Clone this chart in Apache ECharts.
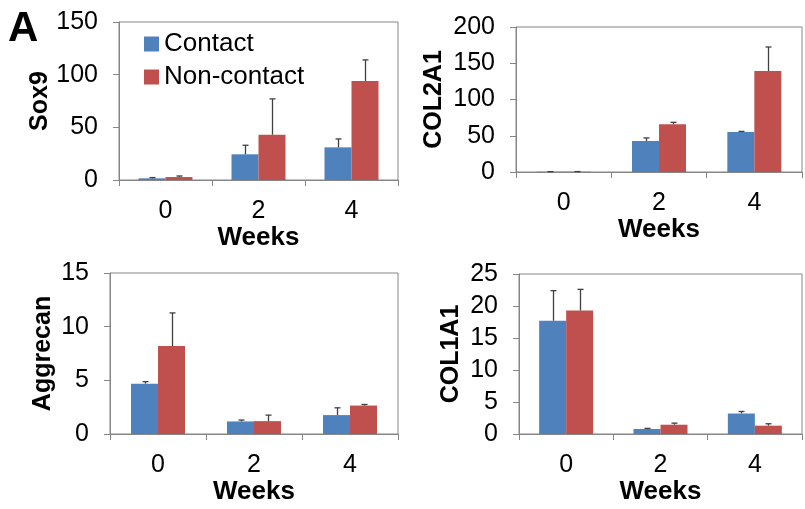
<!DOCTYPE html>
<html>
<head>
<meta charset="utf-8">
<script src="https://cdn.jsdelivr.net/npm/echarts@6/dist/echarts.min.js"></script>
<style>
html,body{margin:0;padding:0;background:#fff;}
#chart{width:805px;height:509px;}
</style>
</head>
<body>
<div id="chart"></div>
<script>
// ---- Data ----
const weeks = ['0', '2', '4'];
const seriesNames = ['Contact', 'Non-contact'];

const sox9Contact = [1.6, 24.4, 31];
const sox9ContactUpper = [2.3, 33, 39];
const sox9NonContact = [2.8, 43, 94];
const sox9NonContactUpper = [3.8, 77, 114];

const col2a1Contact = [0.4, 42.8, 55.2];
const col2a1ContactUpper = [0.5, 47, 56];
const col2a1NonContact = [0.4, 65.8, 139.3];
const col2a1NonContactUpper = [0.6, 68.5, 172.4];

const aggrecanContact = [4.69, 1.17, 1.76];
const aggrecanContactUpper = [4.88, 1.3, 2.44];
const aggrecanNonContact = [8.19, 1.2, 2.65];
const aggrecanNonContactUpper = [11.28, 1.76, 2.75];

const col1a1Contact = [17.7, 0.78, 3.2];
const col1a1ContactUpper = [22.4, 0.88, 3.52];
const col1a1NonContact = [19.3, 1.45, 1.3];
const col1a1NonContactUpper = [22.6, 1.7, 1.6];

const yTicks = {
  sox9: {max: 150, interval: 50},
  col2a1: {max: 200, interval: 50},
  aggrecan: {max: 15, interval: 5},
  col1a1: {max: 25, interval: 5}
};

// ---- Styling ----
const FONT = 'Arial, "Liberation Sans", sans-serif';
const BLUE = '#4F81BD';
const RED = '#C0504D';
const AXIS = '#868686';
const BAR_W = 27;

const panels = [
  {name: 'Sox9', key: 'sox9', c: sox9Contact, cu: sox9ContactUpper, n: sox9NonContact, nu: sox9NonContactUpper,
   grid: {left: 119, top: 22, width: 279, height: 158}, yGap: 66, xGap: 43},
  {name: 'COL2A1', key: 'col2a1', c: col2a1Contact, cu: col2a1ContactUpper, n: col2a1NonContact, nu: col2a1NonContactUpper,
   grid: {left: 516, top: 27, width: 286, height: 145}, yGap: 69, xGap: 44},
  {name: 'Aggrecan', key: 'aggrecan', c: aggrecanContact, cu: aggrecanContactUpper, n: aggrecanNonContact, nu: aggrecanNonContactUpper,
   grid: {left: 110, top: 273, width: 288, height: 161}, yGap: 54, xGap: 42},
  {name: 'COL1A1', key: 'col1a1', c: col1a1Contact, cu: col1a1ContactUpper, n: col1a1NonContact, nu: col1a1NonContactUpper,
   grid: {left: 519, top: 274, width: 283, height: 160}, yGap: 55, xGap: 41}
];

const grids = [], xAxes = [], yAxes = [], series = [];

function errRender(offset) {
  return function (params, api) {
    const cat = api.value(0);
    const top = api.coord([cat, api.value(2)]);
    const base = api.coord([cat, api.value(1)]);
    const x = Math.round(top[0] + offset) + 0.5;
    const style = {stroke: '#404040', lineWidth: 1.3};
    return {
      type: 'group',
      children: [
        {type: 'line', shape: {x1: x, y1: base[1], x2: x, y2: top[1]}, style: style},
        {type: 'line', shape: {x1: x - 3, y1: top[1], x2: x + 3, y2: top[1]}, style: style}
      ]
    };
  };
}

panels.forEach((p, i) => {
  grids.push(Object.assign({show: true, borderColor: AXIS, borderWidth: 1, backgroundColor: 'transparent'}, p.grid));
  xAxes.push({
    type: 'category', gridIndex: i, data: weeks, boundaryGap: true,
    name: 'Weeks', nameLocation: 'middle', nameGap: p.xGap,
    nameTextStyle: {fontFamily: FONT, fontWeight: 'bold', fontSize: 26, color: '#000'},
    axisLine: {lineStyle: {color: AXIS, width: 1}},
    axisTick: {show: true, inside: false, length: 6, lineStyle: {color: AXIS}},
    axisLabel: {fontFamily: FONT, fontSize: 25, color: '#000', margin: 19}
  });
  yAxes.push({
    type: 'value', gridIndex: i, min: 0, max: yTicks[p.key].max, interval: yTicks[p.key].interval,
    name: p.name, nameLocation: 'middle', nameGap: p.yGap, nameRotate: 90,
    nameTextStyle: {fontFamily: FONT, fontWeight: 'bold', fontSize: 25, color: '#000'},
    axisLine: {show: true, lineStyle: {color: AXIS, width: 1}},
    axisTick: {show: true, inside: false, length: 6, lineStyle: {color: AXIS}},
    splitLine: {show: false},
    axisLabel: {fontFamily: FONT, fontSize: 25, color: '#000', margin: 21}
  });
  series.push({
    name: seriesNames[0], type: 'bar', xAxisIndex: i, yAxisIndex: i,
    data: p.c, barWidth: BAR_W, barGap: '0%', itemStyle: {color: BLUE}
  });
  series.push({
    name: seriesNames[1], type: 'bar', xAxisIndex: i, yAxisIndex: i,
    data: p.n, barWidth: BAR_W, barGap: '0%', itemStyle: {color: RED}
  });
  series.push({
    type: 'custom', xAxisIndex: i, yAxisIndex: i, z: 5,
    renderItem: errRender(-BAR_W / 2),
    encode: {x: 0, y: [1, 2]},
    data: p.c.map((v, k) => [k, v, p.cu[k]])
  });
  series.push({
    type: 'custom', xAxisIndex: i, yAxisIndex: i, z: 5,
    renderItem: errRender(BAR_W / 2),
    encode: {x: 0, y: [1, 2]},
    data: p.n.map((v, k) => [k, v, p.nu[k]])
  });
});

const chart = echarts.init(document.getElementById('chart'), null, {renderer: 'canvas'});
chart.setOption({
  animation: false,
  backgroundColor: '#fff',
  grid: grids,
  xAxis: xAxes,
  yAxis: yAxes,
  legend: {
    data: seriesNames, orient: 'vertical', left: 139, top: 26,
    itemWidth: 15, itemHeight: 15, itemGap: 7, icon: 'rect',
    textStyle: {fontFamily: FONT, fontSize: 26, color: '#000'}
  },
  graphic: [
    {type: 'text', left: 8, top: 8,
     style: {text: 'A', fontFamily: FONT, fontWeight: 'bold', fontSize: 42, fill: '#000'}}
  ],
  series: series
});
</script>
</body>
</html>
